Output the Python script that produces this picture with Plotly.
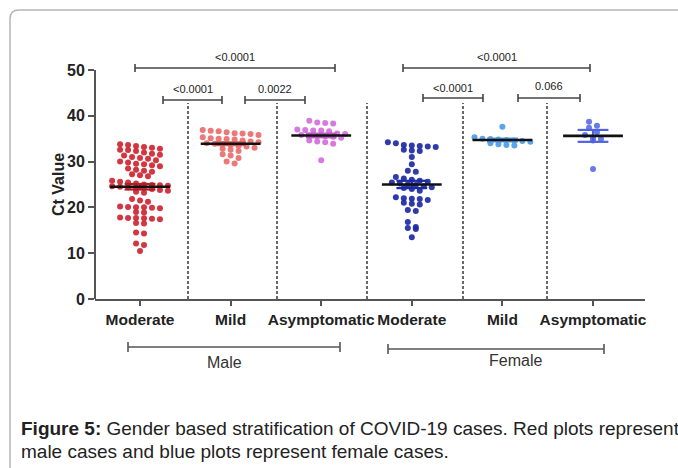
import plotly.graph_objects as go

# ---------------- data ----------------
categories = ["Moderate", "Mild", "Asymptomatic", "Moderate", "Mild", "Asymptomatic"]
groups = ["Male", "Female"]

male_moderate = [33.8, 33.6, 33.4, 33.2, 33.0, 32.8, 32.6, 32.5, 32.3, 32.0,
                 31.7, 31.5, 31.3, 31.0, 30.8, 30.6, 30.3, 30.0, 29.8, 29.5,
                 29.4, 29.2, 29.0, 28.5, 28.2, 28.0, 27.8, 27.2, 27.0, 26.8,
                 25.8, 25.6, 25.4, 25.2, 25.0, 24.9, 24.8, 24.7, 24.6, 24.5,
                 24.4, 24.3, 24.2, 24.0, 23.8, 23.6, 23.4, 23.2,
                 21.8, 21.5, 21.2, 20.2, 20.1, 20.0, 20.0, 19.9, 19.8, 19.0,
                 18.9, 17.8, 17.7, 17.7, 17.6, 17.5, 17.4, 16.6, 16.5, 14.5,
                 14.3, 12.1, 11.8, 10.5]
male_mild = [36.9, 36.7, 36.6, 36.4, 36.2, 36.1, 36.0, 35.8, 35.3, 35.1,
             35.0, 34.9, 34.8, 34.6, 34.4, 34.2, 34.0, 33.9, 33.8, 33.6,
             33.4, 33.3, 33.0, 32.8, 32.6, 32.3, 31.6, 31.3, 30.8, 30.0, 29.6]
male_asymptomatic = [38.9, 38.5, 38.4, 38.3, 37.0, 36.9, 36.8, 36.8, 36.6, 36.1,
                     36.0, 35.8, 35.7, 35.6, 35.5, 35.4, 35.2, 34.6, 34.4, 34.2,
                     33.9, 30.3]
female_moderate = [34.2, 34.0, 33.6, 33.5, 33.4, 33.3, 33.2, 32.6, 32.4, 32.3,
                   31.0, 29.4, 28.0, 27.8, 26.6, 26.3, 26.0, 25.8, 25.6, 25.4,
                   25.2, 25.0, 24.9, 24.6, 24.4, 24.2, 24.0, 23.6, 22.2, 22.0,
                   21.9, 21.8, 21.6, 21.0, 20.8, 20.6, 19.4, 19.2, 16.8, 15.7,
                   15.5, 15.3, 13.5]
female_mild = [37.6, 35.3, 35.0, 34.9, 34.8, 34.7, 34.6, 34.5, 34.3, 34.0,
               33.8, 33.6, 33.5]
female_asymptomatic = [38.7, 37.8, 37.4, 36.4, 35.8, 35.2, 34.9, 34.6, 28.4]

center_vals = [24.5, 33.9, 35.7, 25.0, 34.7, 35.6]
sem_vals = [0.6, 0.3, 0.4, 0.8, 0.3, 1.3]

p_labels = ["<0.0001", "<0.0001", "0.0022", "<0.0001", "<0.0001", "0.066"]
y_ticks = [0, 10, 20, 30, 40, 50]
y_title = "Ct Value"

series = [male_moderate, male_mild, male_asymptomatic,
          female_moderate, female_mild, female_asymptomatic]

# ---------------- styles / layout geometry ----------------
dot_colors = ["#cf2530", "#e86e6c", "#d36fdc", "#1d2aa6", "#4f9be8", "#5b6fe6"]
sem_colors = ["#b01e26", "#d85b5a", "#b85ac0", "#1d2aa6", "#4f9be8", "#4f62e0"]
FONT = "Liberation Sans, Arial, sans-serif"
W, H = 678, 468
ML, MR, MT, MB = 95, 33, 47, 169
PW, PH = W - ML - MR, H - MT - MB
X_RANGE = [-0.497, 5.574]
Y_RANGE = [0, 55]


def px2paper_x(px):
    return (px - ML) / PW


def py2paper_y(py):
    return (H - MB - py) / PH


def px2data_x(px):
    return X_RANGE[0] + (px - ML) / PW * (X_RANGE[1] - X_RANGE[0])


def py2data_y(py):
    return Y_RANGE[0] + (H - MB - py) / PH * (Y_RANGE[1] - Y_RANGE[0])


def swarm_offsets(vals, dx, bin_h, max_row):
    order = sorted(range(len(vals)), key=lambda i: -vals[i])
    offsets = [0.0] * len(vals)
    bins, cur, start = [], [], None
    for i in order:
        if start is None or start - vals[i] > bin_h:
            if cur:
                bins.append(cur)
            cur, start = [i], vals[i]
        else:
            cur.append(i)
    if cur:
        bins.append(cur)
    for b in bins:
        rows = [b[k:k + max_row] for k in range(0, len(b), max_row)]
        for r_i, row in enumerate(rows):
            n = len(row)
            shift = (r_i % 2) * dx / 2
            for k, i in enumerate(row):
                offsets[i] = (k - (n - 1) / 2) * dx + shift
    return offsets


fig = go.Figure()

# separators (dashed)
sep_px = [188, 277, 367, 463, 547]
for sx in sep_px:
    xd = px2data_x(sx)
    fig.add_trace(go.Scatter(x=[xd, xd], y=[0, py2data_y(103)], mode="lines",
                             line=dict(color="#444", width=1.6, dash="3px,2px"),
                             hoverinfo="skip", showlegend=False))

# dots
for gi, vals in enumerate(series):
    offs = swarm_offsets(vals, 0.088, 1.15, 8)
    fig.add_trace(go.Scatter(
        x=[gi + o for o in offs], y=vals, mode="markers",
        marker=dict(size=6, color=dot_colors[gi], opacity=0.92,
                    line=dict(width=0)),
        showlegend=False, hoverinfo="y"))

# mean line + SEM
for gi, (c, s) in enumerate(zip(center_vals, sem_vals)):
    cap = 0.17
    fig.add_trace(go.Scatter(
        x=[gi - cap, gi + cap, None, gi - cap, gi + cap, None, gi, gi],
        y=[c + s, c + s, None, c - s, c - s, None, c - s, c + s],
        mode="lines", line=dict(color=sem_colors[gi], width=2.2),
        showlegend=False, hoverinfo="skip"))
    fig.add_trace(go.Scatter(
        x=[gi - 0.33, gi + 0.33], y=[c, c], mode="lines",
        line=dict(color="#111", width=2.6), showlegend=False, hoverinfo="skip"))

# comparison brackets (pixel positions)
br_px = [(135, 335, 68, 57), (163, 222, 100, 89), (245, 305, 100, 89),
         (403, 590, 68, 57), (423, 483, 98, 88), (518, 580, 98, 86)]
tick_h = py2data_y(0) - py2data_y(4)
for (x0p, x1p, yp, typ), lab in zip(br_px, p_labels):
    x0, x1, yb = px2data_x(x0p), px2data_x(x1p), py2data_y(yp)
    fig.add_trace(go.Scatter(
        x=[x0, x1, None, x0, x0, None, x1, x1],
        y=[yb, yb, None, yb - tick_h, yb + tick_h, None, yb - tick_h, yb + tick_h],
        mode="lines", line=dict(color="#444", width=1.6), cliponaxis=False,
        showlegend=False, hoverinfo="skip"))
    fig.add_annotation(x=(x0 + x1) / 2, y=py2data_y(typ), text=lab, showarrow=False,
                       font=dict(family=FONT, size=11, color="#222"),
                       xanchor="center", yanchor="middle")

shapes = []
# y axis line 0..50
shapes.append(dict(type="line", xref="paper", yref="y", x0=0, x1=0, y0=0, y1=50,
                   line=dict(color="#555", width=2)))
# group brackets
grp_px = [(128, 340, 347, 224, 362), (388, 604, 349, 515, 360)]
for (x0p, x1p, yp, tx, ty), g in zip(grp_px, groups):
    x0, x1 = px2data_x(x0p), px2data_x(x1p)
    yb = py2paper_y(yp)
    dy = 5 / PH
    shapes.append(dict(type="line", xref="x", yref="paper", x0=x0, x1=x1, y0=yb, y1=yb,
                       line=dict(color="#555", width=1.6)))
    for xx in (x0, x1):
        shapes.append(dict(type="line", xref="x", yref="paper", x0=xx, x1=xx,
                           y0=yb - dy, y1=yb + dy, line=dict(color="#555", width=1.6)))
    fig.add_annotation(x=px2data_x(tx), y=py2paper_y(ty), xref="x", yref="paper",
                       text=g, showarrow=False, xanchor="center", yanchor="middle",
                       font=dict(family=FONT, size=16, color="#333"))

# y axis title
fig.add_annotation(xref="paper", yref="paper", x=px2paper_x(58), y=py2paper_y(185),
                   text=f"<b>{y_title}</b>", textangle=-90, showarrow=False,
                   xanchor="center", yanchor="middle",
                   font=dict(family=FONT, size=16, color="#222"))

# figure frame (rounded top-left corner)
fx0, fy0 = px2paper_x(10), py2paper_y(10)
fx1, fy1 = px2paper_x(700), py2paper_y(490)
rx, ry = 9 / PW, 9 / PH
shapes.append(dict(type="path", xref="paper", yref="paper",
                   path=f"M {fx0} {fy1} L {fx0} {fy0 - ry} Q {fx0} {fy0} {fx0 + rx} {fy0} L {fx1} {fy0}",
                   line=dict(color="#b5b5b5", width=1.5)))

# caption
fig.add_annotation(xref="paper", yref="paper", x=px2paper_x(19), y=py2paper_y(428),
                   text="<b>Figure 5:</b> Gender based stratification of COVID-19 cases. Red plots represent",
                   showarrow=False, xanchor="left", yanchor="middle",
                   font=dict(family=FONT, size=19, color="#222"))
fig.add_annotation(xref="paper", yref="paper", x=px2paper_x(19), y=py2paper_y(451),
                   text="male cases and blue plots represent female cases.",
                   showarrow=False, xanchor="left", yanchor="middle",
                   font=dict(family=FONT, size=19, color="#222"))

fig.update_layout(
    width=W, height=H, margin=dict(l=ML, r=MR, t=MT, b=MB),
    plot_bgcolor="white", paper_bgcolor="white", shapes=shapes,
    xaxis=dict(range=X_RANGE, tickvals=list(range(len(categories))), ticktext=categories,
               showline=True, linecolor="#555", linewidth=2, ticks="outside",
               ticklen=5, tickwidth=2, tickcolor="#555", showgrid=False, zeroline=False,
               tickfont=dict(family=FONT, size=15.5, color="#222", weight="bold")),
    yaxis=dict(range=Y_RANGE, tickvals=y_ticks, showline=False, ticks="outside",
               ticklen=6, tickwidth=2, tickcolor="#555", showgrid=False, zeroline=False,
               tickfont=dict(family=FONT, size=16, color="#222", weight="bold")),
)

fig.write_html("out.html")
